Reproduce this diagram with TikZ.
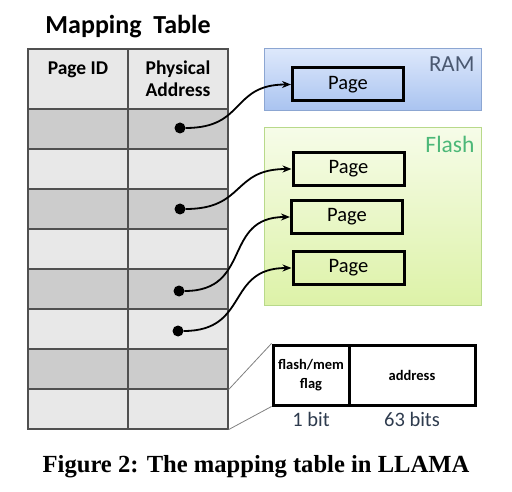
\documentclass[tikz,border=0pt]{standalone}
\usepackage{fontspec}
\setmainfont{Carlito}
\newfontfamily\capfont{Liberation Serif}
\usetikzlibrary{arrows.meta, positioning, calc}
\definecolor{map_dark}{HTML}{CCCCCC}
\definecolor{map_light}{HTML}{E8E8E8}
\definecolor{map_grid}{HTML}{505050}
\definecolor{ram_top}{HTML}{DDE8FB}
\definecolor{ram_bot}{HTML}{A9C3F0}
\definecolor{ram_edge}{HTML}{8CA6D2}
\definecolor{ram_text}{HTML}{4A5870}
\definecolor{flash_top}{HTML}{F6FCE8}
\definecolor{flash_bot}{HTML}{DDF2A8}
\definecolor{flash_edge}{HTML}{B8D98A}
\definecolor{flash_text}{HTML}{4CB878}
\definecolor{bit_text}{HTML}{2E3B4E}

\begin{document}
\begin{tikzpicture}[x=1pt, y=-1pt,
        cell/.style={draw=map_grid, line width=1.2pt, minimum width=100pt,
                     minimum height=40pt, inner sep=0pt, align=center,
                     font=\fontsize{19.5}{22}\selectfont\bfseries},
        dot/.style={circle, fill=black, minimum size=11pt, inner sep=0pt},
        page/.style={draw=black, line width=3pt, minimum width=111pt,
                     minimum height=33pt, inner sep=0pt,
                     font=\fontsize{20.5}{22}\selectfont},
        mem/.style={minimum width=217pt, inner sep=0pt, line width=1pt},
        field/.style={draw=black, line width=3pt, minimum height=60pt,
                      inner sep=0pt, align=center,
                      font=\fontsize{14.5}{19}\selectfont\bfseries},
        link/.style={-{Stealth[length=9pt, width=7pt]}, line width=1.8pt,
                     looseness=1.35},
        zoomline/.style={draw=gray, line width=0.8pt}]
        \useasboundingbox (0,0) rectangle (512,492);
        % Table
        \node[font=\fontsize{26}{28}\selectfont\bfseries] (title) at (128,27)
          {Mapping\ \ Table};
        \node[cell, fill=map_light, minimum height=60pt] (id-0) at (78,79)
          {Page ID\\\phantom{A}};
        \node[cell, fill=map_light, minimum height=60pt] (pa-0) at (178,79)
          {Physical\\Address};
        \foreach \i/\col in {1/map_dark, 2/map_light, 3/map_dark, 4/map_light,
                             5/map_dark, 6/map_light, 7/map_dark, 8/map_light} {
          \node[cell, fill=\col] (id-\i) at (78,{89+40*\i}) {};
          \node[cell, fill=\col] (pa-\i) at (178,{89+40*\i}) {};
        }
        % Pointers
        \node[dot] (d1) at (180,128) {};
        \node[dot] (d3) at (180,209) {};
        \node[dot] (d5) at (179,291) {};
        \node[dot] (d6) at (178,331) {};
        % Memories
        \node[mem, draw=ram_edge, top color=ram_top, bottom color=ram_bot,
              minimum height=62pt] (ram) at (372.5,80) {};
        \node[anchor=east, text=ram_text, font=\fontsize{23}{24}\selectfont]
          (ram-lbl) at (478,64) {RAM};
        \node[mem, draw=flash_edge, top color=flash_top, bottom color=flash_bot,
              minimum height=177pt] (flash) at (372.5,216.5) {};
        \node[anchor=east, text=flash_text, font=\fontsize{23.5}{24}\selectfont]
          (flash-lbl) at (478,144) {Flash};
        \node[page] (ram-p) at (348,84.5) {Page};
        \node[page] (fl-p1) at (348.5,169) {Page};
        \node[page] (fl-p2) at (347,217) {Page};
        \node[page] (fl-p3) at (348.5,268) {Page};
        \draw[link] (d1) to[out=0, in=180] (ram-p.west);
        \draw[link] (d3) to[out=0, in=180] (fl-p1.west);
        \draw[link] (d5) to[out=0, in=180] (fl-p2.west);
        \draw[link] (d6) to[out=0, in=180] (fl-p3.west);
        % Entry layout
        \node[field, minimum width=76pt] (flag) at (311,375) {flash/mem\\flag};
        \node[field, minimum width=126pt, right=0pt of flag, xshift=-3pt]
          (addr) {address};
        \draw[zoomline] (pa-7.south east) -- (flag.north west);
        \draw[zoomline] (pa-8.south east) -- (flag.south west);
        \node[text=bit_text, font=\fontsize{20.5}{22}\selectfont] (flag-w)
          at (311,419) {1 bit};
        \node[text=bit_text, font=\fontsize{20.5}{22}\selectfont] (addr-w)
          at (412,419) {63 bits};
        % Caption
        \node[font=\capfont\fontsize{24.6}{28}\selectfont\bfseries] (cap)
          at (256,467) {Figure 2: The mapping table in LLAMA};
\end{tikzpicture}
\end{document}
